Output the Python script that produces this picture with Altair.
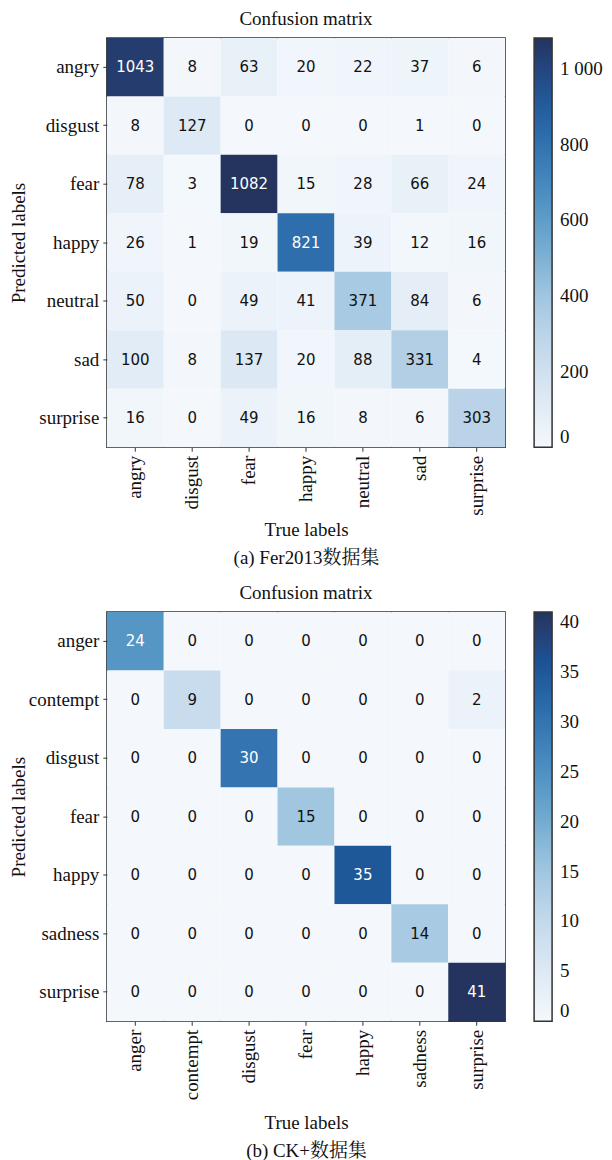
import altair as alt
import pandas as pd

# ---- data ----
fer_labels = ["angry", "disgust", "fear", "happy", "neutral", "sad", "surprise"]
fer_matrix = [
    [1043, 8, 63, 20, 22, 37, 6],
    [8, 127, 0, 0, 0, 1, 0],
    [78, 3, 1082, 15, 28, 66, 24],
    [26, 1, 19, 821, 39, 12, 16],
    [50, 0, 49, 41, 371, 84, 6],
    [100, 8, 137, 20, 88, 331, 4],
    [16, 0, 49, 16, 8, 6, 303],
]
fer_ticks = [0, 200, 400, 600, 800, 1000]

ck_labels = ["anger", "contempt", "disgust", "fear", "happy", "sadness", "surprise"]
ck_matrix = [
    [24, 0, 0, 0, 0, 0, 0],
    [0, 9, 0, 0, 0, 0, 2],
    [0, 0, 30, 0, 0, 0, 0],
    [0, 0, 0, 15, 0, 0, 0],
    [0, 0, 0, 0, 35, 0, 0],
    [0, 0, 0, 0, 0, 14, 0],
    [0, 0, 0, 0, 0, 0, 41],
]
ck_ticks = [0, 5, 10, 15, 20, 25, 30, 35, 40]

blues = ["#f4f8fc", "#dce8f4", "#c3d8ec", "#9ec5de", "#6fa9d0",
         "#4a8dc0", "#2f70ae", "#1b5394", "#24345f"]

SERIF = "Liberation Serif, Noto Serif CJK SC, Noto Sans CJK SC"
FS = 19


def make_df(labels, matrix):
    rows = []
    for i, pred in enumerate(labels):
        for j, true in enumerate(labels):
            rows.append({"pred": pred, "true": true, "v": matrix[i][j]})
    return pd.DataFrame(rows)


def panel(labels, matrix, ticks, caption, xtitle_pad, ytitle_pad):
    df = make_df(labels, matrix)
    vmax = max(max(r) for r in matrix)
    dom = [vmax * k / 8 for k in range(9)]
    x = alt.X("true:N", sort=labels,
              axis=alt.Axis(title=["True labels", caption], labelAngle=-90,
                            titleLineHeight=28, titlePadding=xtitle_pad))
    y = alt.Y("pred:N", sort=labels,
              axis=alt.Axis(title="Predicted labels", titlePadding=ytitle_pad))
    base = alt.Chart(df).encode(x=x, y=y)
    rect = base.mark_rect().encode(
        color=alt.Color("v:Q",
                        scale=alt.Scale(domain=dom, range=blues, clamp=True),
                        legend=alt.Legend(
                            title=None, values=ticks, direction="vertical",
                            gradientLength=410, gradientThickness=18,
                            gradientStrokeColor="#333", gradientStrokeWidth=1.5,
                            offset=29, labelOffset=8, labelFont=SERIF,
                            labelFontSize=FS, labelColor="#111",
                            labelOverlap=False, labelBaseline="middle",
                            labelLimit=200, padding=0,
                            labelExpr="replace(format(datum.value, ','), ',', ' ')"))
    )
    text = base.mark_text(font="DejaVu Sans", fontSize=15).encode(
        text="v:Q",
        color=alt.condition(alt.datum.v > vmax / 2, alt.value("#ffffff"), alt.value("#111111")),
    )
    return (rect + text).properties(
        width=399, height=410,
        title=alt.TitleParams("Confusion matrix", font=SERIF, fontSize=FS,
                              fontWeight="normal", anchor="middle", offset=9,
                              color="#111"),
    )


top = panel(fer_labels, fer_matrix, fer_ticks, "(a) Fer2013数据集", 5, 10)
bottom = panel(ck_labels, ck_matrix, ck_ticks, "(b) CK+数据集", 14, 0)

chart = alt.vconcat(top, bottom, spacing=15, padding=0).resolve_scale(color="independent").configure_view(
    stroke="#333", strokeWidth=1.5
).configure_axis(
    domain=False, tickColor="#333", tickSize=4, labelPadding=4,
    labelFont=SERIF, labelFontSize=FS, labelColor="#111",
    titleFont=SERIF, titleFontSize=FS, titleFontWeight="normal", titleColor="#111",
)

chart.save("out.html", embed_options={"renderer": "svg", "actions": False})
